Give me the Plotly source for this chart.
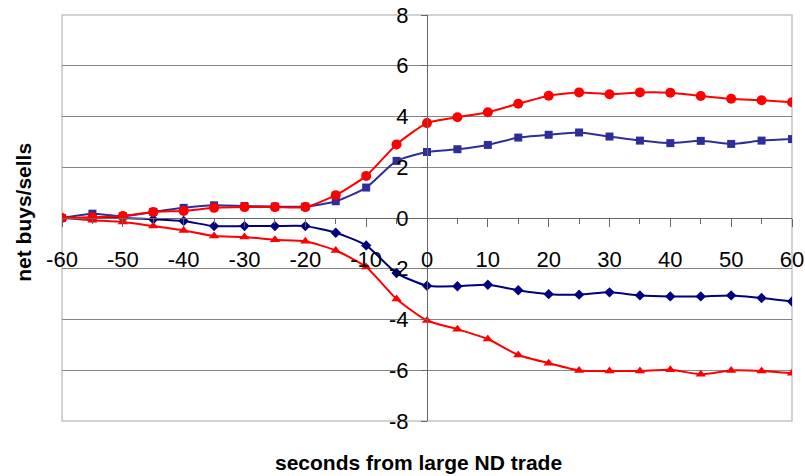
import plotly.graph_objects as go

seconds = [-60, -55, -50, -45, -40, -35, -30, -25, -20, -15, -10, -5, 0,
           5, 10, 15, 20, 25, 30, 35, 40, 45, 50, 55, 60]

buys_red = [0.0, 0.03, 0.08, 0.24, 0.28, 0.40, 0.43, 0.43, 0.43, 0.90, 1.66, 2.90, 3.74,
            3.97, 4.17, 4.50, 4.82, 4.95, 4.88, 4.95, 4.94, 4.81, 4.70, 4.64, 4.56]
buys_blue = [0.0, 0.17, 0.07, 0.24, 0.40, 0.50, 0.47, 0.45, 0.45, 0.66, 1.20, 2.25, 2.60,
             2.71, 2.88, 3.17, 3.28, 3.37, 3.21, 3.05, 2.95, 3.04, 2.92, 3.05, 3.11]
sells_blue = [0.0, 0.0, 0.0, -0.05, -0.12, -0.32, -0.32, -0.32, -0.32, -0.58, -1.08, -2.17, -2.67,
              -2.69, -2.63, -2.85, -3.00, -3.02, -2.93, -3.05, -3.09, -3.09, -3.05, -3.15, -3.29]
sells_red = [0.0, -0.09, -0.16, -0.32, -0.49, -0.71, -0.75, -0.86, -0.92, -1.28, -1.93, -3.19, -4.04,
             -4.38, -4.77, -5.40, -5.72, -6.01, -6.03, -6.03, -5.98, -6.16, -6.01, -6.03, -6.12]

x_ticks = [-60, -50, -40, -30, -20, -10, 0, 10, 20, 30, 40, 50, 60]
x_minor = [-55, -45, -35, -25, -15, -5, 5, 15, 25, 35, 45, 55]
y_ticks = [-8, -6, -4, -2, 0, 2, 4, 6, 8]

RED = "#ff0000"
NAVY = "#000080"
BLUE = "#2e2e9a"

fig = go.Figure()
fig.add_trace(go.Scatter(x=seconds, y=sells_blue, mode="lines+markers",
                         line=dict(color=NAVY, width=2, shape="spline", smoothing=0.6),
                         marker=dict(symbol="diamond", size=8, color=NAVY)))
fig.add_trace(go.Scatter(x=seconds, y=sells_red, mode="lines+markers",
                         line=dict(color=RED, width=2, shape="spline", smoothing=0.6),
                         marker=dict(symbol="triangle-up", size=9, color=RED)))
fig.add_trace(go.Scatter(x=seconds, y=buys_blue, mode="lines+markers",
                         line=dict(color=BLUE, width=2, shape="spline", smoothing=0.6),
                         marker=dict(symbol="square", size=8, color=BLUE)))
fig.add_trace(go.Scatter(x=seconds, y=buys_red, mode="lines+markers",
                         line=dict(color=RED, width=2, shape="spline", smoothing=0.6),
                         marker=dict(symbol="circle", size=10, color=RED)))

font_family = "Liberation Sans, Arial, sans-serif"

fig.update_layout(
    width=805, height=476,
    margin=dict(l=62, r=13, t=15, b=55),
    paper_bgcolor="white", plot_bgcolor="white",
    showlegend=False,
    font=dict(family=font_family, size=22, color="black"),
    xaxis=dict(range=[-60, 60], tickvals=x_ticks, ticktext=[str(v) for v in x_ticks],
               showgrid=False, zeroline=False, showline=True, linecolor="#666666", linewidth=1,
               anchor="free", position=0.5, ticks="outside", ticklen=8, tickcolor="#666666",
               ticklabelstandoff=14, automargin=False, ticklabeloverflow="allow",
               minor=dict(tickvals=x_minor, ticks="outside", ticklen=5, tickcolor="#666666"),
               tickfont=dict(size=22)),
    yaxis=dict(range=[-8, 8], tickvals=y_ticks, ticktext=[str(v) for v in y_ticks],
               showgrid=True, gridcolor="#858585", gridwidth=1, zeroline=False,
               showline=True, linecolor="#666666", linewidth=1,
               anchor="free", position=0.5, ticks="outside", ticklen=6, tickcolor="#666666",
               ticklabelstandoff=8, automargin=False, ticklabeloverflow="allow",
               tickfont=dict(size=22)),
    shapes=[dict(type="rect", xref="paper", yref="paper", x0=0, x1=1, y0=0, y1=1,
                 line=dict(color="#c4c4c4", width=1.5), layer="between")],
    annotations=[
        dict(text="<b>net buys/sells</b>", xref="paper", yref="paper", x=-0.052, y=0.513,
             textangle=-90, showarrow=False, font=dict(size=21), xanchor="center", yanchor="middle"),
        dict(text="<b>seconds from large ND trade</b>", xref="paper", yref="paper", x=0.488, y=-0.101,
             showarrow=False, font=dict(size=21), xanchor="center", yanchor="middle"),
    ],
)

# remove the page's default body margin so the 805x476 figure fills the window exactly
fig.write_html("out.html", config={"displayModeBar": False},
               post_script="document.body.style.margin='0';")
